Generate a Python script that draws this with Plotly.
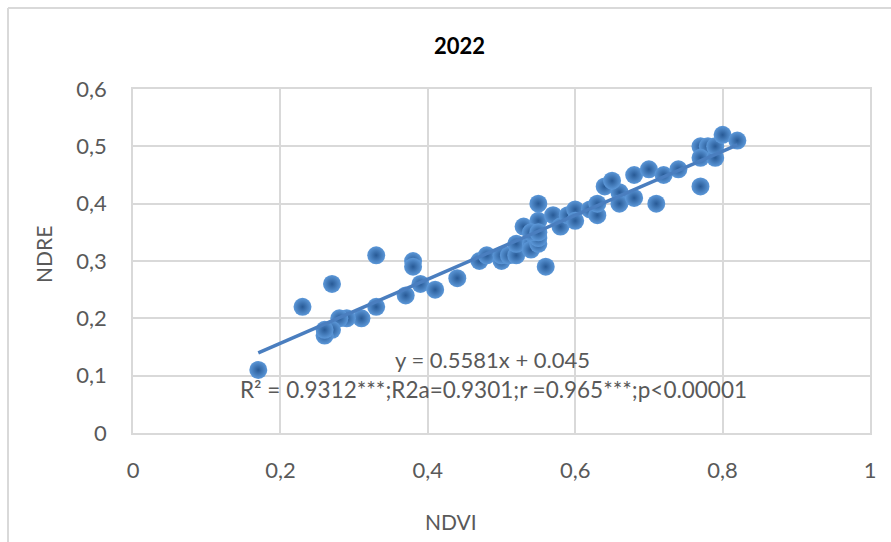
import plotly.graph_objects as go

# NDVI / NDRE pairs for 2022
ndvi = [0.17, 0.23, 0.27, 0.33, 0.38, 0.38, 0.39, 0.41, 0.37, 0.33, 0.31, 0.29,
        0.28, 0.27, 0.26, 0.26, 0.44, 0.47, 0.48, 0.50, 0.50, 0.51, 0.52, 0.52,
        0.54, 0.54, 0.55, 0.55, 0.53, 0.55, 0.54, 0.55, 0.55, 0.56, 0.57, 0.58,
        0.59, 0.60, 0.60, 0.62, 0.63, 0.63, 0.64, 0.66, 0.66, 0.68, 0.65, 0.71,
        0.68, 0.70, 0.72, 0.74, 0.77, 0.77, 0.78, 0.77, 0.79, 0.79, 0.80, 0.82]
ndre = [0.11, 0.22, 0.26, 0.31, 0.30, 0.29, 0.26, 0.25, 0.24, 0.22, 0.20, 0.20,
        0.20, 0.18, 0.17, 0.18, 0.27, 0.30, 0.31, 0.30, 0.31, 0.31, 0.31, 0.33,
        0.33, 0.32, 0.33, 0.34, 0.36, 0.37, 0.35, 0.35, 0.40, 0.29, 0.38, 0.36,
        0.38, 0.39, 0.37, 0.39, 0.38, 0.40, 0.43, 0.42, 0.40, 0.41, 0.44, 0.40,
        0.45, 0.46, 0.45, 0.46, 0.43, 0.50, 0.50, 0.48, 0.48, 0.50, 0.52, 0.51]

# linear trend reported for the series
slope = 0.5581
intercept = 0.045
eq_text = "y = 0.5581x + 0.045"
stats_text = "R² = 0.9312***;R2a=0.9301;r =0.965***;p<0.00001"

x_ticks = [0, 0.2, 0.4, 0.6, 0.8, 1]
y_ticks = [0, 0.1, 0.2, 0.3, 0.4, 0.5, 0.6]

W, H = 891, 542
ML, MR, MT, MB = 133, 21, 89, 109
PW, PH = W - ML - MR, H - MT - MB


def px_x(px):
    return (px - ML) / PW


def px_y(py):
    return (H - MB - py) / PH


FONT = "Lato, 'Open Sans', sans-serif"
GRID = "#d9d9d9"
TXT = "#595959"

fig = go.Figure()

fig.add_trace(go.Scatter(
    x=ndvi, y=ndre, mode="markers",
    marker=dict(size=18, color="#5c98d9",
                gradient=dict(type="radial", color="#285a96"),
                line=dict(width=0)),
    showlegend=False, hoverinfo="x+y",
))

x0, x1 = min(ndvi), max(ndvi)
fig.add_trace(go.Scatter(
    x=[x0, x1], y=[slope * x0 + intercept, slope * x1 + intercept],
    mode="lines", line=dict(color="#4a7ebf", width=3.5),
    showlegend=False, hoverinfo="skip",
))

axis_common = dict(
    showgrid=True, gridcolor=GRID, gridwidth=1.5,
    zeroline=False, showline=True, linecolor=GRID, linewidth=1.5, mirror=True,
    ticks="", tickfont=dict(family=FONT, size=22, color=TXT),
)

fig.update_xaxes(range=[0, 1], tickvals=x_ticks, ticklabelstandoff=17,
                 **axis_common)
fig.update_yaxes(range=[0, 0.6], tickvals=y_ticks, ticklabelstandoff=20,
                 **axis_common)

annotations = [
    dict(text="<b>2022</b>", x=px_x(459), y=px_y(45),
         font=dict(family=FONT, size=22, color="#000000")),
    dict(text="NDRE", x=px_x(43), y=px_y(255), textangle=-90,
         font=dict(family=FONT, size=21, color=TXT)),
    dict(text="NDVI", x=px_x(451), y=px_y(521),
         font=dict(family=FONT, size=21, color=TXT)),
    dict(text=eq_text, x=px_x(492), y=px_y(359),
         font=dict(family=FONT, size=22, color=TXT)),
    dict(text=stats_text, x=px_x(493), y=px_y(389),
         font=dict(family=FONT, size=22.5, color=TXT)),
]
for a in annotations:
    a.update(xref="paper", yref="paper", showarrow=False,
             xanchor="center", yanchor="middle")

# outer chart frame (left and top edges)
frame = dict(type="line", xref="paper", yref="paper",
             line=dict(color=GRID, width=2), layer="below")
shapes = [
    dict(frame, x0=px_x(8), x1=px_x(8), y0=px_y(8), y1=px_y(H + 5)),
    dict(frame, x0=px_x(8), x1=px_x(W + 5), y0=px_y(8), y1=px_y(8)),
]

fig.update_layout(
    width=W, height=H,
    margin=dict(l=ML, r=MR, t=MT, b=MB, pad=0),
    paper_bgcolor="white", plot_bgcolor="white",
    separators=", ",
    annotations=annotations, shapes=shapes,
)

fig.write_html("out.html")
